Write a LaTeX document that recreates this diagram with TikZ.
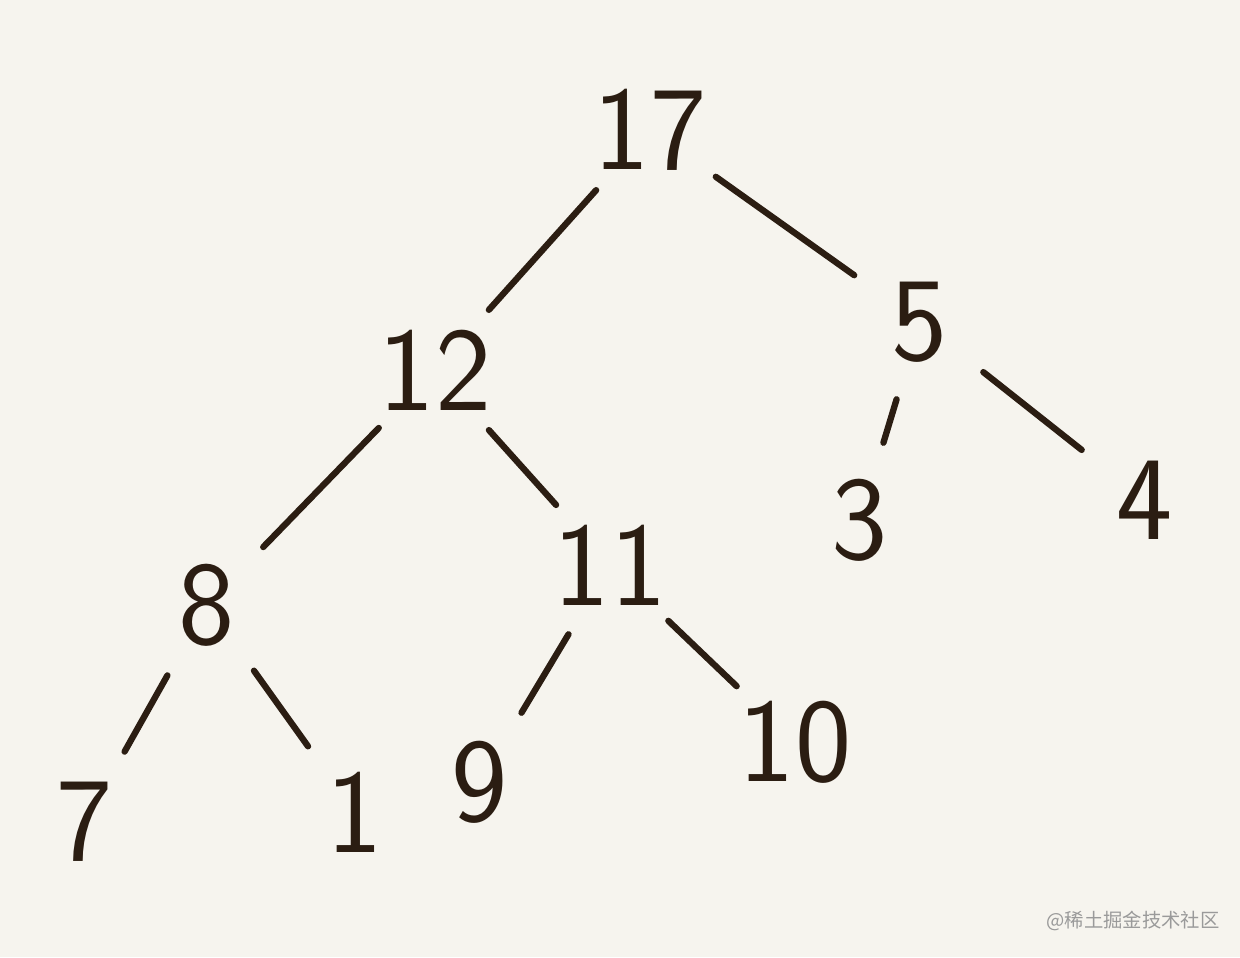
\documentclass[tikz,border=0pt]{standalone}
\usepackage{fontspec}
\newfontfamily\cjk{Noto Sans CJK SC}
\usetikzlibrary{positioning}
\definecolor{tree-ink}{HTML}{2B1D12}
\definecolor{tree-paper}{HTML}{F6F4EE}
\definecolor{tree-mark}{HTML}{9A9A9A}

\begin{document}
\begin{tikzpicture}[x=0.01cm, y=-0.01cm,
    num/.style={circle, minimum size=1.6cm, inner sep=0pt,
        font=\sffamily\fontsize{34}{40}\selectfont, text=tree-ink},
    branch/.style={tree-ink, line width=1.8pt, line cap=round}]
    % --- paper ---
    \fill[tree-paper] (0,0) rectangle (1240,957);
    \useasboundingbox (0,0) rectangle (1240,957);

    % --- numbers ---
    \node[num] (n17) at (650,130) {17};
    \node[num] (n12) at (435,370) {12};
    \node[num] (n5)  at (920,322) {5};
    \node[num] (n3)  at (860,520) {3};
    \node[num] (n4)  at (1145,500) {4};
    \node[num] (n8)  at (207,605) {8};
    \node[num] (n11) at (610,565) {11};
    \node[num] (n7)  at (85,822) {7};
    \node[num] (n1)  at (355,812) {1};
    \node[num] (n9)  at (480,782) {9};
    \node[num] (n10) at (795,742) {10};

    % --- branches ---
    \draw[branch] (n17) -- (n12);
    \draw[branch] (n17) -- (n5);
    \draw[branch] (n12) -- (n8);
    \draw[branch] (n12) -- (n11);
    \draw[branch] (n5) -- (n3);
    \draw[branch] (n5) -- (n4);
    \draw[branch] (n8) -- (n7);
    \draw[branch] (n8) -- (n1);
    \draw[branch] (n11) -- (n9);
    \draw[branch] (n11) -- (n10);

    % watermark
    \node[font=\cjk\fontsize{5.5}{7}\selectfont, text=tree-mark] (mark) at (1133,921) {@稀土掘金技术社区};
\end{tikzpicture}
\end{document}
